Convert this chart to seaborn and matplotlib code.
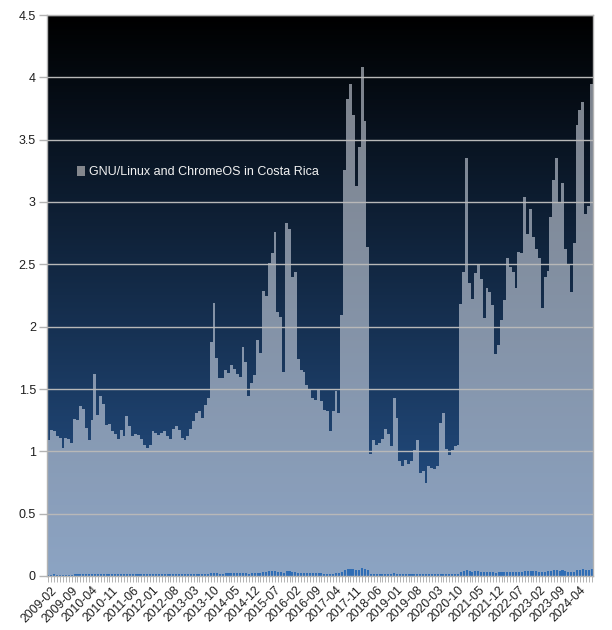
import numpy as np
import pandas as pd
import matplotlib
matplotlib.use("Agg")
import matplotlib.pyplot as plt
from matplotlib.patches import Patch
import seaborn as sns

# ---------------- data ----------------
months = pd.date_range("2009-01", periods=188, freq="MS").strftime("%Y-%m").tolist()

share = [
    1.09, 1.17, 1.16, 1.12, 1.11, 1.03, 1.11, 1.10, 1.07, 1.26, 1.25, 1.36,   # 2009
    1.34, 1.19, 1.09, 1.25, 1.62, 1.29, 1.44, 1.38, 1.21, 1.22, 1.16, 1.14,   # 2010
    1.10, 1.17, 1.12, 1.28, 1.20, 1.12, 1.14, 1.13, 1.10, 1.05, 1.03, 1.05,   # 2011
    1.16, 1.15, 1.13, 1.15, 1.16, 1.12, 1.10, 1.18, 1.20, 1.17, 1.11, 1.09,   # 2012
    1.12, 1.18, 1.24, 1.31, 1.32, 1.27, 1.37, 1.43, 1.88, 2.19, 1.75, 1.59,   # 2013
    1.59, 1.65, 1.63, 1.69, 1.66, 1.62, 1.60, 1.84, 1.72, 1.44, 1.55, 1.61,   # 2014
    1.89, 1.79, 2.29, 2.25, 2.51, 2.59, 2.76, 2.12, 2.08, 1.64, 2.83, 2.78,   # 2015
    2.40, 2.44, 1.74, 1.65, 1.64, 1.53, 1.50, 1.43, 1.41, 1.49, 1.40, 1.33,   # 2016
    1.32, 1.16, 1.32, 1.48, 1.31, 2.09, 3.26, 3.83, 3.95, 3.70, 3.13, 3.44,   # 2017
    4.08, 3.65, 2.64, 0.98, 1.09, 1.05, 1.07, 1.10, 1.18, 1.14, 1.04, 1.43,   # 2018
    1.27, 0.92, 0.88, 0.93, 0.90, 0.92, 1.01, 1.09, 0.83, 0.84, 0.75, 0.88,   # 2019
    0.87, 0.86, 0.88, 1.23, 1.31, 1.02, 0.97, 1.01, 1.04, 1.05, 2.18, 2.44,   # 2020
    3.35, 2.35, 2.22, 2.43, 2.50, 2.38, 2.07, 2.31, 2.28, 2.17, 1.78, 1.85,   # 2021
    2.05, 2.21, 2.55, 2.48, 2.44, 2.31, 2.60, 2.59, 3.04, 2.74, 2.94, 2.72,   # 2022
    2.62, 2.55, 2.15, 2.40, 2.45, 2.88, 3.18, 3.35, 3.00, 3.15, 2.62, 2.50,   # 2023
    2.28, 2.67, 3.62, 3.74, 3.80, 2.90, 2.97, 3.95,                           # 2024
]

low_series = [
    0.012, 0.012, 0.013, 0.012, 0.012, 0.011, 0.012, 0.012, 0.011, 0.013, 0.013, 0.014,
    0.014, 0.014, 0.013, 0.015, 0.017, 0.015, 0.016, 0.016, 0.014, 0.014, 0.013, 0.013,
    0.013, 0.014, 0.013, 0.015, 0.016, 0.015, 0.015, 0.015, 0.014, 0.013, 0.013, 0.013,
    0.014, 0.014, 0.013, 0.013, 0.014, 0.013, 0.013, 0.014, 0.014, 0.014, 0.013, 0.013,
    0.013, 0.014, 0.015, 0.016, 0.016, 0.016, 0.016, 0.017, 0.022, 0.026, 0.022, 0.020,
    0.020, 0.021, 0.021, 0.022, 0.022, 0.021, 0.021, 0.023, 0.022, 0.020, 0.021, 0.022,
    0.025, 0.027, 0.034, 0.034, 0.037, 0.038, 0.040, 0.030, 0.029, 0.027, 0.040, 0.039,
    0.035, 0.033, 0.026, 0.025, 0.024, 0.023, 0.022, 0.021, 0.021, 0.022, 0.021, 0.020,
    0.020, 0.018, 0.020, 0.022, 0.021, 0.035, 0.052, 0.058, 0.060, 0.056, 0.048, 0.052,
    0.062, 0.055, 0.045, 0.017, 0.018, 0.017, 0.018, 0.018, 0.019, 0.018, 0.017, 0.021,
    0.020, 0.016, 0.015, 0.016, 0.015, 0.016, 0.017, 0.018, 0.014, 0.014, 0.013, 0.015,
    0.015, 0.015, 0.015, 0.019, 0.020, 0.017, 0.016, 0.017, 0.018, 0.018, 0.036, 0.040,
    0.046, 0.037, 0.035, 0.037, 0.038, 0.036, 0.032, 0.035, 0.035, 0.033, 0.028, 0.029,
    0.031, 0.033, 0.036, 0.035, 0.034, 0.033, 0.035, 0.035, 0.040, 0.040, 0.043, 0.038,
    0.037, 0.036, 0.032, 0.035, 0.042, 0.044, 0.046, 0.047, 0.044, 0.045, 0.038, 0.036,
    0.033, 0.036, 0.050, 0.052, 0.054, 0.045, 0.046, 0.055,
]

legend_label = "GNU/Linux and ChromeOS in Costa Rica"
y_ticks = [0, 0.5, 1, 1.5, 2, 2.5, 3, 3.5, 4, 4.5]

df = pd.DataFrame({"month": months, "share": share, "low": low_series})

# ---------------- style ----------------
sns.set_theme(style="white")
plt.rcParams["font.family"] = ["Liberation Sans", "DejaVu Sans"]

W, H = 612, 630
fig = plt.figure(figsize=(W / 100, H / 100), dpi=100)
ax = fig.add_axes([47 / W, 1 - 576 / H, 546 / W, 561 / H])

n = len(months)
# gradient background (black at top to blue at bottom)
grad = np.linspace(0, 1, 256)[:, None, None]
top_c = np.array([0, 0, 0]) / 255
bot_c = np.array([40, 88, 148]) / 255
img = top_c + (bot_c - top_c) * grad
img = np.repeat(img, 2, axis=1)
ax.imshow(img, extent=[-0.5, n - 0.5, 0, 4.5], aspect="auto",
          origin="upper", zorder=0, interpolation="bilinear")

sns.barplot(data=df, x="month", y="share", color="#d5dbe6", alpha=0.58,
            width=1.0, linewidth=0, saturation=1, ax=ax, zorder=2)
sns.barplot(data=df, x="month", y="low", color="#2f6db5",
            width=0.7, linewidth=0, saturation=1, ax=ax, zorder=3)

ax.set_xlim(-0.5, n - 0.5)
ax.set_ylim(0, 4.5)
ax.set_xlabel("")
ax.set_ylabel("")

ax.set_yticks(y_ticks)
ax.set_yticklabels([f"{v:g}" for v in y_ticks])
ax.yaxis.grid(True, color="#b8b8b8", linewidth=1.0)
ax.xaxis.grid(False)
ax.set_axisbelow(False)
for gl in ax.get_ygridlines():
    gl.set_zorder(2.5)

major_idx = list(range(1, n, 7))
ax.set_xticks(major_idx)
ax.set_xticklabels([months[i] for i in major_idx], rotation=45, ha="right",
                   rotation_mode="anchor")
ax.set_xticks(range(n), minor=True)

ax.tick_params(axis="y", which="major", length=6, width=1, color="#b3b3b3",
               labelsize=9, labelcolor="#1e1e1e", pad=2, left=True)
ax.tick_params(axis="x", which="both", length=4, width=0.7, color="#b3b3b3",
               labelsize=8.7, labelcolor="#1e1e1e", pad=2, bottom=True)

for s in ax.spines.values():
    s.set_color("#b3b3b3")
    s.set_linewidth(1)
    s.set_zorder(4)

handle = Patch(facecolor="#84878d", edgecolor="none", label=legend_label)
leg = ax.legend(handles=[handle], loc="center left", bbox_to_anchor=(0.045, 0.72),
                frameon=False, fontsize=9, handlelength=0.7, handleheight=0.8,
                handletextpad=0.3, borderaxespad=0)
for t in leg.get_texts():
    t.set_color("#f2f2f2")

fig.savefig("out.png", dpi=100)
